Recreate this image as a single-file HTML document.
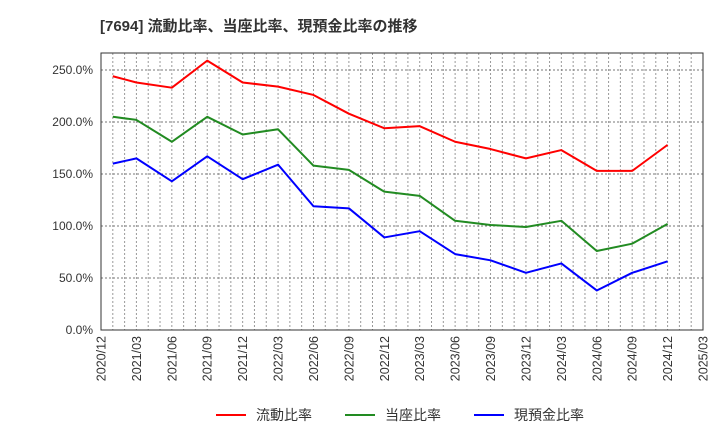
<!DOCTYPE html>
<html><head><meta charset="utf-8"><style>
body{margin:0;background:#fff;font-family:"Liberation Sans","Noto Sans CJK JP",sans-serif;}
</style></head><body>
<svg width="720" height="440" xmlns="http://www.w3.org/2000/svg">
<text x="100" y="31" font-size="15" font-weight="bold" fill="#333">[7694]  流動比率、当座比率、現預金比率の推移</text>
<g id="grid"></g>
<g id="axes"></g>
<g id="series"></g>
<g id="legend"></g>
</svg>
<script>
const tickLabels=["2020/12","2021/03","2021/06","2021/09","2021/12","2022/03","2022/06","2022/09","2022/12","2023/03","2023/06","2023/09","2023/12","2024/03","2024/06","2024/09","2024/12","2025/03"];
const yTicks=[0,50,100,150,200,250];
// months since 2020/12
const monthIdx=[1,3,6,9,12,15,18,21,24,27,30,33,36,39,42,45,48];
const currentRatio=[244,238,233,259,238,234,226,208,194,196,181,174,165,173,153,153,178];
const quickRatio=[205,202,181,205,188,193,158,154,133,129,105,101,99,105,76,83,102];
const cashRatio=[160,165,143,167,145,159,119,117,89,95,73,67,55,64,38,55,66];
const names=["流動比率","当座比率","現預金比率"];
const colors=["#ff0000","#228b22","#0000ff"];
const NS="http://www.w3.org/2000/svg";
const L=101,R=703,T=53,B=330;
const xs=m=>L+(R-L)*m/51;
const ys=v=>B-v*1.04;
function mk(tag,attrs,parent){const e=document.createElementNS(NS,tag);for(const k in attrs)e.setAttribute(k,attrs[k]);parent.appendChild(e);return e;}
const grid=document.getElementById('grid'),axes=document.getElementById('axes'),ser=document.getElementById('series'),leg=document.getElementById('legend');
for(let m=1;m<51;m++){const l=mk('line',{x1:xs(m),x2:xs(m),y1:T,y2:B,stroke:'#999','stroke-dasharray':'2,2','stroke-width':1},grid);

}
yTicks.forEach(v=>{if(v>0){const l=mk('line',{x1:L,x2:R,y1:ys(v),y2:ys(v),stroke:'#777','stroke-dasharray':'2,2','stroke-width':1},grid);

}
const t=mk('text',{x:L-8,y:ys(v)+4,'text-anchor':'end','font-size':12,fill:'#333'},axes);t.textContent=v.toFixed(1)+'%';

});
const fr=mk('rect',{x:L,y:T,width:R-L,height:B-T,fill:'none',stroke:'#333','stroke-width':1},axes);


tickLabels.forEach((s,i)=>{const x=xs(i*3);const t=mk('text',{x:0,y:0,transform:`translate(${x+4.5},${B+6}) rotate(-90)`,'text-anchor':'end','font-size':12.5,fill:'#333'},axes);t.textContent=s;

});
[currentRatio,quickRatio,cashRatio].forEach((d,k)=>{const p=mk('polyline',{points:d.map((v,i)=>xs(monthIdx[i])+','+ys(v)).join(' '),fill:'none',stroke:colors[k],'stroke-width':2,'stroke-linejoin':'round'},ser);

});
const lx=[216,345,474];
names.forEach((n,k)=>{const g=mk('g',{},leg);


mk('line',{x1:lx[k],x2:lx[k]+30,y1:415,y2:415,stroke:colors[k],'stroke-width':2},g);
const t=mk('text',{x:lx[k]+40,y:420,'font-size':14,fill:'#333'},g);t.textContent=n;});
</script>
</body></html>
